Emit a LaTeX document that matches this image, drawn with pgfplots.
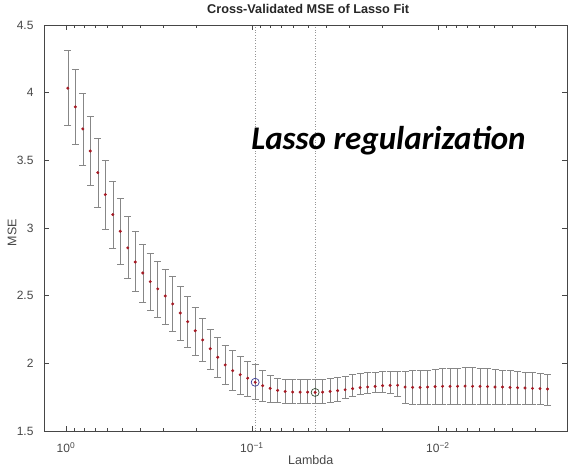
\documentclass[border=0pt]{standalone}
\usepackage{fontspec}
\setmainfont{Liberation Sans}
\newfontfamily\carlito{Carlito}
\usepackage{pgfplots}
\pgfplotsset{compat=1.18}
\usepackage{pgfplotstable}
\definecolor{axgray}{RGB}{70,70,70}
\definecolor{errgray}{RGB}{135,135,135}
\definecolor{dotgray}{RGB}{150,150,150}
\definecolor{ptred}{RGB}{165,25,35}
\definecolor{seblue}{RGB}{60,60,150}
\definecolor{mingreen}{RGB}{50,75,50}
\pgfplotstableread{
e mse ep em
-0.0100 4.033 0.278 0.277
-0.0503 3.895 0.275 0.274
-0.0906 3.732 0.266 0.266
-0.1309 3.569 0.259 0.253
-0.1712 3.409 0.254 0.259
-0.2115 3.247 0.254 0.256
-0.2518 3.099 0.247 0.252
-0.2921 2.976 0.246 0.242
-0.3324 2.853 0.236 0.227
-0.3727 2.749 0.224 0.219
-0.4130 2.668 0.214 0.218
-0.4533 2.604 0.209 0.212
-0.4936 2.550 0.203 0.213
-0.5339 2.498 0.199 0.207
-0.5742 2.439 0.201 0.205
-0.6145 2.372 0.194 0.199
-0.6548 2.308 0.185 0.192
-0.6951 2.241 0.173 0.179
-0.7354 2.173 0.160 0.161
-0.7757 2.108 0.146 0.150
-0.8160 2.045 0.147 0.148
-0.8563 1.988 0.148 0.143
-0.8966 1.946 0.147 0.143
-0.9369 1.916 0.138 0.143
-0.9772 1.890 0.127 0.131
-1.0175 1.860 0.130 0.126
-1.0578 1.835 0.111 0.118
-1.0981 1.815 0.099 0.103
-1.1384 1.800 0.089 0.091
-1.1787 1.792 0.090 0.084
-1.2190 1.788 0.094 0.080
-1.2593 1.787 0.095 0.080
-1.2996 1.787 0.095 0.081
-1.3399 1.785 0.097 0.081
-1.3802 1.787 0.095 0.079
-1.4205 1.793 0.096 0.081
-1.4608 1.798 0.098 0.076
-1.5011 1.805 0.101 0.065
-1.5414 1.813 0.103 0.054
-1.5817 1.820 0.106 0.045
-1.6220 1.825 0.106 0.045
-1.6623 1.830 0.106 0.046
-1.7026 1.835 0.103 0.049
-1.7429 1.837 0.101 0.057
-1.7832 1.838 0.100 0.078
-1.8235 1.825 0.115 0.121
-1.8638 1.822 0.124 0.124
-1.9041 1.822 0.126 0.125
-1.9444 1.825 0.127 0.128
-1.9847 1.828 0.130 0.131
-2.0250 1.830 0.130 0.133
-2.0653 1.830 0.132 0.133
-2.1056 1.830 0.136 0.133
-2.1459 1.832 0.139 0.135
-2.1862 1.830 0.141 0.133
-2.2265 1.830 0.136 0.133
-2.2668 1.828 0.132 0.131
-2.3071 1.825 0.131 0.128
-2.3474 1.825 0.125 0.128
-2.3877 1.822 0.124 0.126
-2.4280 1.820 0.121 0.124
-2.4683 1.818 0.118 0.123
-2.5086 1.815 0.116 0.120
-2.5489 1.813 0.113 0.119
-2.5892 1.810 0.111 0.117
}\cvdata

\begin{document}
\begin{tikzpicture}
\begin{axis}[
  at={(0,0)}, anchor=south west,
  scale only axis, width=523bp, height=406bp,
  xmin=-2.694, xmax=0.118, ymin=1.5, ymax=4.5,
  x dir=reverse,
  xtick={0,-1,-2},
  xticklabels={10\textsuperscript{0},10\textsuperscript{−1},10\textsuperscript{−2}},
  minor xtick={-0.699,-0.523,-0.398,-0.301,-0.222,-0.155,-0.097,-0.046,
               -1.699,-1.523,-1.398,-1.301,-1.222,-1.155,-1.097,-1.046,
               -2.523,-2.398,-2.301,-2.222,-2.155,-2.097,-2.046},
  ytick={1.5,2,2.5,3,3.5,4,4.5},
  yticklabels={1.5,2,2.5,3,3.5,4,4.5},
  tick align=inside, tick pos=both,
  major tick length=5bp, minor tick length=3bp,
  axis line style={axgray, line width=0.6pt},
  every tick/.style={axgray, line width=0.5pt},
  tick label style={font=\fontsize{12bp}{14bp}\selectfont, text=black!72},
  yticklabel style={xshift=-7bp},
  xticklabel style={yshift=-8bp},
  xlabel={Lambda}, ylabel={MSE},
  xlabel style={at={(axis description cs:0.51,-0.0714)}, anchor=center, font=\fontsize{12.5bp}{14bp}\selectfont, text=black!72},
  ylabel style={at={(axis description cs:-0.0612,0.488)}, anchor=center, rotate=0, font=\fontsize{12.5bp}{14bp}\selectfont, text=black!72},
  clip=false,
]
\addplot[dotgray, dotted, line width=0.7pt, forget plot] coordinates {(-1.0175,1.5) (-1.0175,4.5)};
\addplot[dotgray, dotted, line width=0.7pt, forget plot] coordinates {(-1.3399,1.5) (-1.3399,4.5)};
\addplot[only marks, mark=*, mark size=1.3bp, ptred,
  error bars/.cd, y dir=both, y explicit,
  error bar style={errgray, line width=0.5pt},
  error mark options={rotate=90, errgray, mark size=3.5bp, line width=0.5pt}]
  table[x=e, y=mse, y error plus=ep, y error minus=em] {\cvdata};
\addplot[only marks, mark=o, mark size=4bp, seblue, line width=0.7pt] coordinates {(-1.0175,1.860)};
\addplot[only marks, mark=o, mark size=4bp, mingreen, line width=0.7pt] coordinates {(-1.3399,1.785)};
\node[anchor=base west, font=\carlito\bfseries\itshape\fontsize{33bp}{38bp}\selectfont] at (axis cs:-0.978,3.577) {Lasso regularization};
\node[anchor=center, font=\bfseries\fontsize{12.7bp}{14bp}\selectfont, text=black!85] at (axis description cs:0.505,1.0394) {Cross-Validated MSE of Lasso Fit};
\end{axis}
\pgfresetboundingbox
\path[use as bounding box] (-44bp,-44bp) rectangle (526bp,431bp);
\end{tikzpicture}
\end{document}
